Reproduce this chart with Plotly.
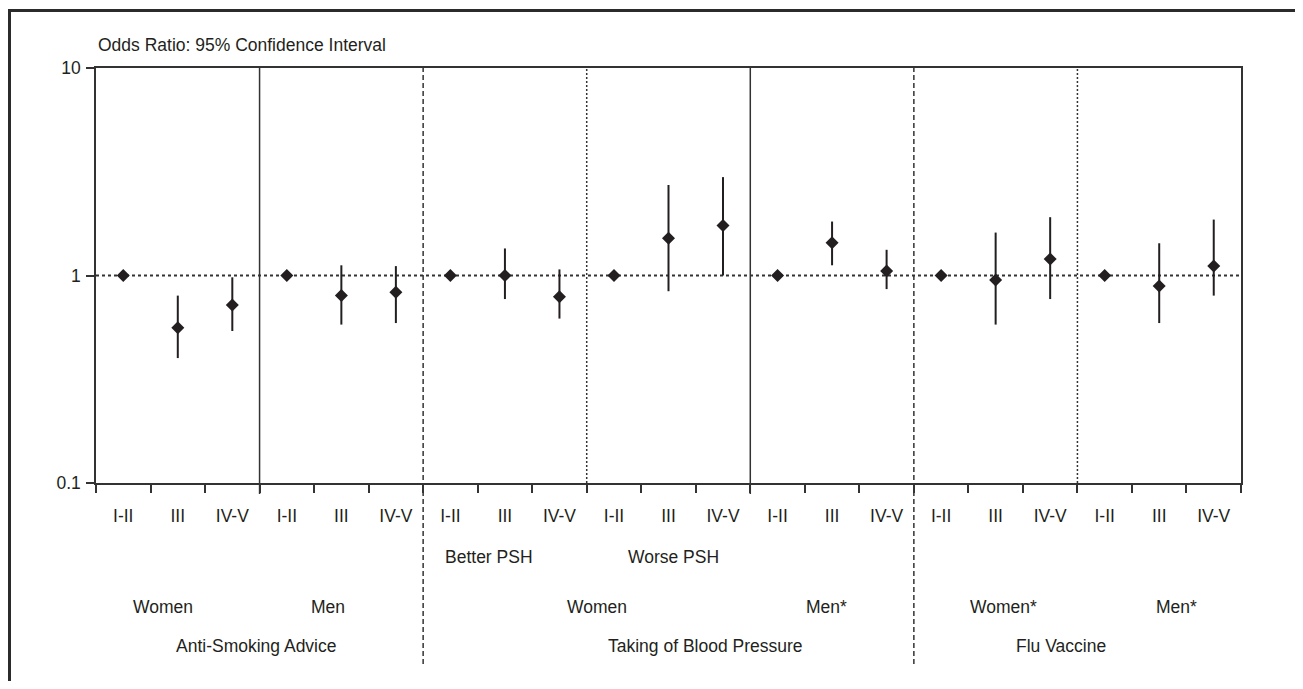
import numpy as np
import plotly.graph_objects as go

# ---- data ----
class_labels = ["I-II", "III", "IV-V",
                "I-II", "III", "IV-V",
                "I-II", "III", "IV-V",
                "I-II", "III", "IV-V",
                "I-II", "III", "IV-V",
                "I-II", "III", "IV-V",
                "I-II", "III", "IV-V"]
odds_ratio = [1.00, 0.56, 0.72,
              1.00, 0.80, 0.83,
              1.00, 1.00, 0.79,
              1.00, 1.51, 1.74,
              1.00, 1.44, 1.05,
              1.00, 0.95, 1.20,
              1.00, 0.89, 1.11]
ci_low = [1.00, 0.40, 0.54,
          1.00, 0.58, 0.59,
          1.00, 0.77, 0.62,
          1.00, 0.84, 1.00,
          1.00, 1.12, 0.86,
          1.00, 0.58, 0.77,
          1.00, 0.59, 0.80]
ci_high = [1.00, 0.80, 0.98,
           1.00, 1.12, 1.11,
           1.00, 1.35, 1.07,
           1.00, 2.73, 2.98,
           1.00, 1.82, 1.33,
           1.00, 1.61, 1.91,
           1.00, 1.43, 1.86]
y_tick_vals = [0.1, 1, 10]
y_tick_text = ["0.1", "1", "10"]

sub_labels = ["Better PSH", "Worse PSH"]
sex_labels = ["Women", "Men", "Women", "Men*", "Women*", "Men*"]
outcome_labels = ["Anti-Smoking Advice", "Taking of Blood Pressure", "Flu Vaccine"]

# ---- styling ----
FONT = "Liberation Sans Narrow, Arial Narrow, Liberation Sans, Arial, sans-serif"
INK = "#231f20"
LINE = "#333333"
FS = 17.5

n = len(class_labels)
xpos = np.arange(n) + 0.5
err_plus = [h - v for h, v in zip(ci_high, odds_ratio)]
err_minus = [v - l for v, l in zip(odds_ratio, ci_low)]

fig = go.Figure()
fig.add_trace(go.Scatter(
    x=xpos, y=odds_ratio, mode="markers",
    marker=dict(symbol="diamond", size=10, color=INK),
    error_y=dict(type="data", symmetric=False, array=err_plus, arrayminus=err_minus,
                 color=INK, thickness=2, width=0),
    showlegend=False, hoverinfo="skip",
))

# page has an 8px body margin: figure is sized to fit inside the window
OFF = 8
W, H = 1303 - 2 * OFF, 689 - 2 * OFF
# plot area in window pixels (reference)
L, R, T, B = 96, 1241, 68, 483
def py(p):  # window pixel y -> paper y
    return (B - p) / (B - T)
def px(p):  # window pixel x -> paper x
    return (p - L) / (R - L)

shapes = []
# reference line at OR = 1
shapes.append(dict(type="line", xref="paper", yref="y", x0=0, x1=1, y0=1, y1=1,
                   line=dict(color=LINE, width=2, dash="3px,3px"), layer="below"))
# group dividers
divider_style = {3: ("solid", B + 11), 6: ("dash", 664), 9: ("dot", B),
                 12: ("solid", B + 11), 15: ("dash", 664), 18: ("dot", B)}
for xb, (style, bottom) in divider_style.items():
    if style == "solid":
        ln = dict(color=LINE, width=1.5)
    elif style == "dash":
        ln = dict(color=LINE, width=1.5, dash="5px,3px")
    else:
        ln = dict(color=LINE, width=1.5, dash="2px,2px")
    shapes.append(dict(type="line", xref="x", yref="paper", x0=xb, x1=xb,
                       y0=py(bottom), y1=1, line=ln, layer="below"))
# outer frame (top and left edges)
shapes.append(dict(type="line", xref="paper", yref="paper", x0=px(8), x1=px(1330),
                   y0=py(10.5), y1=py(10.5), line=dict(color="#2b2b2b", width=3)))
shapes.append(dict(type="line", xref="paper", yref="paper", x0=px(9.5), x1=px(9.5),
                   y0=py(9), y1=py(720), line=dict(color="#2b2b2b", width=3)))

annotations = []
annotations.append(dict(text="Odds Ratio: 95% Confidence Interval", xref="paper", yref="paper",
                        x=0, y=py(45), xanchor="left", yanchor="middle", showarrow=False,
                        font=dict(family=FONT, size=FS, color=INK)))
for txt, xd in zip(sub_labels, [7.2, 10.6]):
    annotations.append(dict(text=txt, xref="x", yref="paper", x=xd, y=py(556.5),
                            xanchor="center", yanchor="middle", showarrow=False,
                            font=dict(family=FONT, size=FS, color=INK)))
for txt, xd in zip(sex_labels, [1.23, 4.26, 9.19, 13.39, 16.65, 19.81]):
    annotations.append(dict(text=txt, xref="x", yref="paper", x=xd, y=py(607),
                            xanchor="center", yanchor="middle", showarrow=False,
                            font=dict(family=FONT, size=FS, color=INK)))
for txt, xd in zip(outcome_labels, [2.95, 11.17, 17.7]):
    annotations.append(dict(text=txt, xref="x", yref="paper", x=xd, y=py(645.5),
                            xanchor="center", yanchor="middle", showarrow=False,
                            font=dict(family=FONT, size=FS, color=INK)))

fig.update_layout(
    width=W, height=H,
    margin=dict(l=L - OFF, r=W - (R - OFF), t=T - OFF, b=H - (B - OFF), pad=0),
    plot_bgcolor="white", paper_bgcolor="white",
    shapes=shapes, annotations=annotations,
    font=dict(family=FONT, size=FS, color=INK),
    xaxis=dict(range=[0, n], tickmode="array", tickvals=xpos, ticktext=class_labels,
               ticks="", ticklen=0, showgrid=False, zeroline=False,
               showline=True, linecolor=LINE, linewidth=1.5, mirror=True,
               ticklabelstandoff=16,
               tickfont=dict(family=FONT, size=FS, color=INK),
               minor=dict(tickmode="linear", tick0=0, dtick=1, ticks="outside",
                          ticklen=8, tickwidth=1.5, tickcolor=LINE, showgrid=False),
               fixedrange=True),
    yaxis=dict(type="log", range=[-1, 1], tickmode="array", tickvals=y_tick_vals,
               ticktext=y_tick_text, ticks="outside", ticklen=8, tickwidth=1.5,
               tickcolor=LINE, showgrid=False, zeroline=False,
               showline=True, linecolor=LINE, linewidth=1.5, mirror=True,
               ticklabelstandoff=2,
               tickfont=dict(family=FONT, size=FS, color=INK), fixedrange=True),
)

fig.write_html("out.html")
